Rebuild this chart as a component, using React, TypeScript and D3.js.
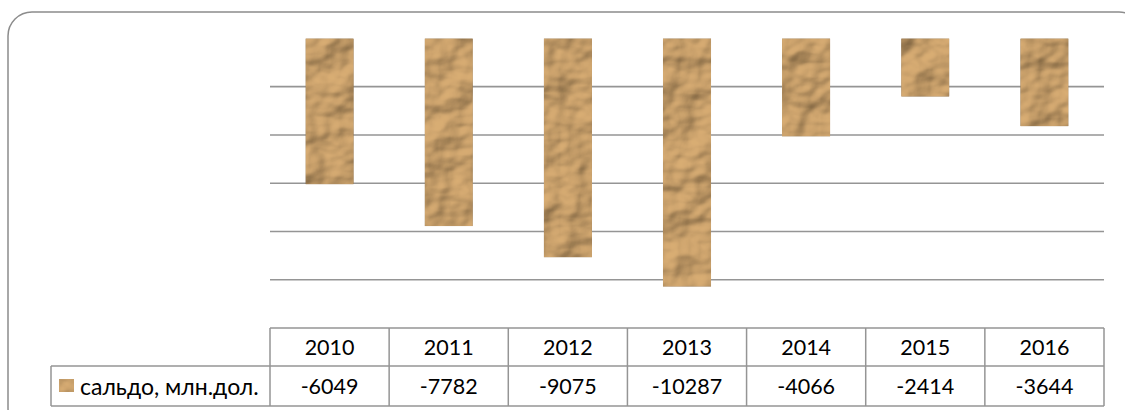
import { useEffect, useRef } from 'react';
import * as d3 from 'd3';

const years = ['2010', '2011', '2012', '2013', '2014', '2015', '2016'];
const saldo = [-6049, -7782, -9075, -10287, -4066, -2414, -3644];
const gridTicks = [-2000, -4000, -6000, -8000, -10000];
const seriesName = 'сальдо, млн.дол.';

export default function App() {
  const svgRef = useRef<SVGSVGElement>(null);

  useEffect(() => {
    document.body.style.margin = '0';
    if (!svgRef.current) return;
    const svg = d3.select(svgRef.current);
    svg.selectAll('*').remove();

    const W = 1125, H = 410;
    svg.attr('width', W).attr('height', H).attr('viewBox', `0 0 ${W} ${H}`);

    // crumpled paper texture
    const defs = svg.append('defs');
    const f = defs.append('filter').attr('id', 'paper')
      .attr('x', 0).attr('y', 0).attr('width', 1).attr('height', 1);
    f.append('feTurbulence').attr('type', 'fractalNoise')
      .attr('baseFrequency', '0.025 0.032').attr('numOctaves', 3).attr('seed', 11).attr('result', 'noise');
    const light = f.append('feDiffuseLighting').attr('in', 'noise')
      .attr('surfaceScale', 10).attr('diffuseConstant', 1)
      .attr('lighting-color', '#ffffff').attr('result', 'lit');
    light.append('feDistantLight').attr('azimuth', 225).attr('elevation', 45);
    f.append('feComposite').attr('in', 'lit').attr('in2', 'SourceGraphic')
      .attr('operator', 'arithmetic').attr('k1', 0.95).attr('k2', 0).attr('k3', 0.45).attr('k4', 0)
      .attr('result', 'mix');
    f.append('feComposite').attr('in', 'mix').attr('in2', 'SourceAlpha').attr('operator', 'in');

    // outer frame
    svg.append('rect')
      .attr('x', 8).attr('y', 12).attr('width', 1135).attr('height', 420)
      .attr('rx', 24).attr('ry', 24)
      .attr('fill', '#fff').attr('stroke', '#8c8c8c').attr('stroke-width', 1.5);

    const left = 270, right = 1104;
    const x = d3.scaleBand<string>().domain(years).range([left, right]).padding(0);
    const y = d3.scaleLinear().domain([-12000, 0]).range([328, 38.4]);

    // gridlines
    svg.append('g').selectAll('line').data(gridTicks).enter().append('line')
      .attr('x1', left).attr('x2', right)
      .attr('y1', d => y(d)).attr('y2', d => y(d))
      .attr('stroke', '#959595').attr('stroke-width', 1.6);

    // bars
    const bw = x.bandwidth() * 0.405;
    svg.append('g').selectAll('rect').data(saldo).enter().append('rect')
      .attr('x', (d, i) => x(years[i])! + (x.bandwidth() - bw) / 2)
      .attr('y', y(0))
      .attr('width', bw)
      .attr('height', d => y(d) - y(0))
      .attr('fill', '#bb9563')
      .attr('filter', 'url(#paper)');

    // data table
    const rowTop = 328, rowMid = 366, rowBot = 406, legLeft = 51;
    const tbl = svg.append('g').attr('fill', 'none').attr('stroke', '#959595').attr('stroke-width', 1.5);
    tbl.append('line').attr('x1', left).attr('x2', right).attr('y1', rowTop).attr('y2', rowTop);
    tbl.append('line').attr('x1', legLeft).attr('x2', right).attr('y1', rowMid).attr('y2', rowMid);
    tbl.append('line').attr('x1', legLeft).attr('x2', right).attr('y1', rowBot).attr('y2', rowBot);
    tbl.append('line').attr('x1', legLeft).attr('x2', legLeft).attr('y1', rowMid).attr('y2', rowBot);
    tbl.selectAll('line.v').data([...years.map(yr => x(yr)!), right]).enter().append('line')
      .attr('class', 'v')
      .attr('x1', d => d).attr('x2', d => d).attr('y1', rowTop).attr('y2', rowBot);

    const txt = svg.append('g')
      .style('font-family', 'Lato, "Open Sans", sans-serif').style('font-size', '21.5px')
      .attr('fill', '#000');
    txt.selectAll('text.yr').data(years).enter().append('text')
      .attr('class', 'yr')
      .attr('x', d => x(d)! + x.bandwidth() / 2).attr('y', (rowTop + rowMid) / 2)
      .attr('text-anchor', 'middle').attr('dominant-baseline', 'central')
      .text(d => d);
    txt.selectAll('text.val').data(saldo).enter().append('text')
      .attr('class', 'val')
      .attr('x', (d, i) => x(years[i])! + x.bandwidth() / 2).attr('y', (rowMid + rowBot) / 2)
      .attr('text-anchor', 'middle').attr('dominant-baseline', 'central')
      .text(d => String(d));

    // legend key
    svg.append('rect').attr('x', 59).attr('y', 379).attr('width', 15).attr('height', 13)
      .attr('fill', '#bb9563').attr('filter', 'url(#paper)');
    txt.append('text').attr('x', 80).attr('y', (rowMid + rowBot) / 2)
      .attr('dominant-baseline', 'central').style('font-size', '23px').text(seriesName);
  }, []);

  return <svg ref={svgRef} style={{ display: 'block' }} />;
}
